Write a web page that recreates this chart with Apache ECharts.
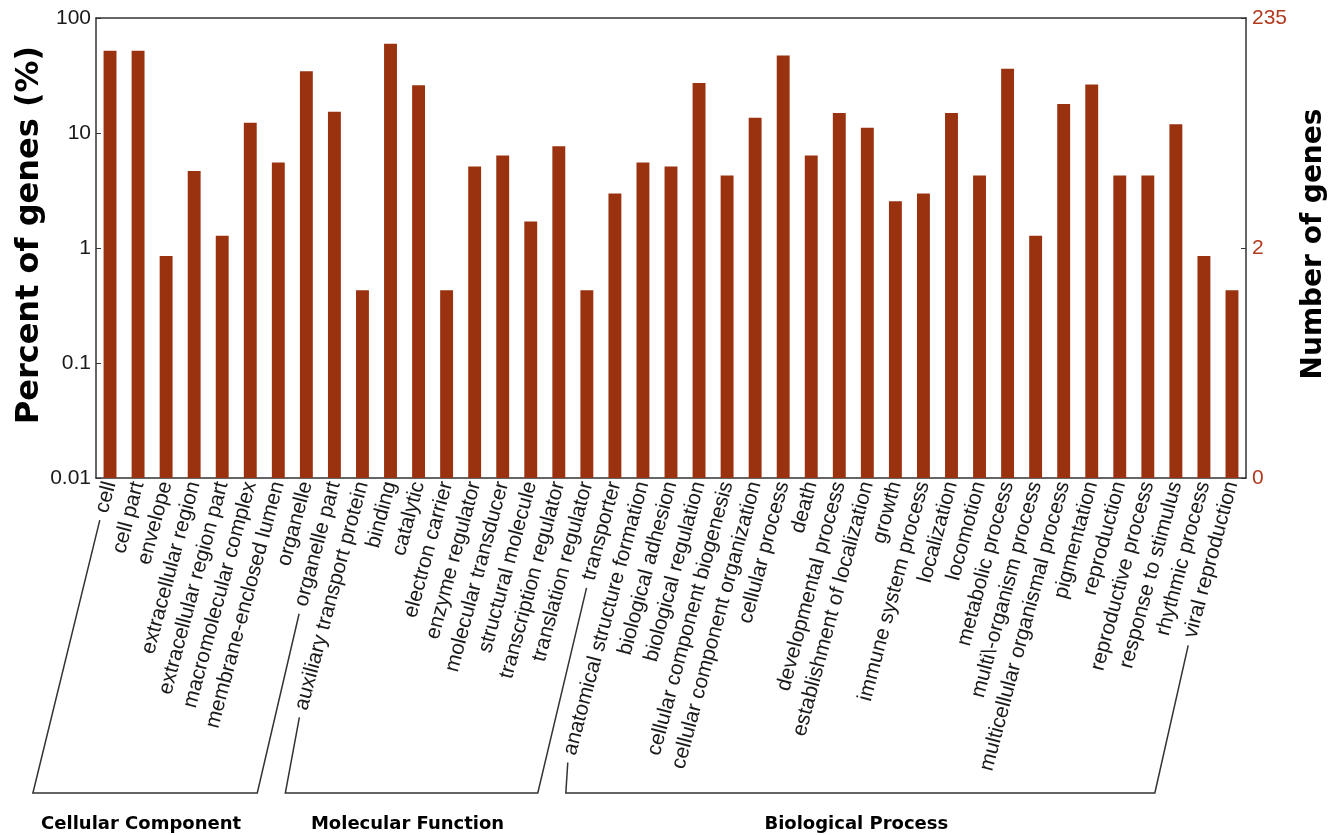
<!DOCTYPE html>
<html>
<head>
<meta charset="utf-8">
<script src="https://cdn.jsdelivr.net/npm/echarts@6/dist/echarts.min.js"></script>
<style>
  html, body { margin: 0; padding: 0; background: #fff; }
  #chart { width: 1338px; height: 835px; }
</style>
</head>
<body>
<div id="chart"></div>
<script>
// --- données ---
const categories = [
  'cell', 'cell part', 'envelope', 'extracellular region', 'extracellular region part',
  'macromolecular complex', 'membrane-enclosed lumen', 'organelle', 'organelle part',
  'auxiliary transport protein', 'binding', 'catalytic', 'electron carrier', 'enzyme regulator',
  'molecular transducer', 'structural molecule', 'transcription regulator', 'translation regulator',
  'transporter',
  'anatomical structure formation', 'biological adhesion', 'biological regulation',
  'cellular component biogenesis', 'cellular component organization', 'cellular process', 'death',
  'developmental process', 'establishment of localization', 'growth', 'immune system process',
  'localization', 'locomotion', 'metabolic process', 'multi\\-organism process',
  'multicellular organismal process', 'pigmentation', 'reproduction', 'reproductive process',
  'response to stimulus', 'rhythmic process', 'viral reproduction'
];
const percents = [
  51.9, 51.9, 0.85, 4.68, 1.28, 12.3, 5.53, 34.5, 15.3,
  0.43, 59.6, 26.0, 0.43, 5.11, 6.38, 1.70, 7.66, 0.43, 2.98,
  5.53, 5.11, 27.2, 4.26, 13.6, 47.2, 6.38, 14.9, 11.1, 2.55, 2.98,
  14.9, 4.26, 36.2, 1.28, 17.9, 26.4, 4.26, 4.26, 11.9, 0.85, 0.43
];
const leftTicks = [0.01, 0.1, 1, 10, 100];
const rightTicks = [0.01, 1, 100];
const rightTickLabels = ['0', '2', '235'];
const groupNames = ['Cellular Component', 'Molecular Function', 'Biological Process'];
const groupFirst = [0, 9, 19];
const groupLast = [8, 18, 40];

// --- styles ---
const barColor = '#9a3210';
const lineColor = '#333';
const labelFont = "21px 'Liberation Sans'";
const labelRotate = 75;
const labelMargin = 4;
const bracketY = 793;
const titleY = 824;
const yMin = 0.01, yMax = 100;

const chart = echarts.init(document.getElementById('chart'));

const option = {
  animation: false,
  grid: { left: 96, right: 92, top: 18, bottom: 357, containLabel: false, outerBoundsMode: 'none' },
  xAxis: [
    {
      type: 'category',
      data: categories,
      position: 'bottom',
      axisLine: { lineStyle: { color: lineColor, width: 1.5 } },
      axisTick: { inside: true, length: 4, interval: 0, lineStyle: { color: lineColor } },
      axisLabel: {
        interval: 0, rotate: labelRotate, margin: labelMargin,
        fontSize: 21, fontFamily: 'Liberation Sans', color: '#1a1a1a'
      }
    },
    {
      type: 'category',
      data: categories,
      position: 'top',
      axisLine: { lineStyle: { color: lineColor, width: 1.5 } },
      axisTick: { inside: true, length: 4, interval: 0, lineStyle: { color: lineColor } },
      axisLabel: { show: false }
    }
  ],
  yAxis: [
    {
      type: 'log', logBase: 10, min: yMin, max: yMax,
      position: 'left',
      axisLine: { show: true, lineStyle: { color: lineColor, width: 1.5 } },
      axisTick: { show: true, inside: true, length: 5, customValues: leftTicks, lineStyle: { color: lineColor } },
      axisLabel: {
        customValues: leftTicks, margin: 5,
        fontSize: 21, fontFamily: 'Liberation Sans', color: '#1a1a1a',
        formatter: v => String(Number(Number(v).toPrecision(2)))
      },
      splitLine: { show: false }
    },
    {
      type: 'log', logBase: 10, min: yMin, max: yMax,
      position: 'right',
      axisLine: { show: true, lineStyle: { color: lineColor, width: 1.5 } },
      axisTick: { show: true, inside: true, length: 5, customValues: rightTicks, lineStyle: { color: lineColor } },
      axisLabel: {
        customValues: rightTicks, margin: 6,
        fontSize: 21, fontFamily: 'Liberation Sans', color: '#b23a1c',
        formatter: v => {
          const k = rightTicks.findIndex(t => Math.abs(Math.log10(t) - Math.log10(v)) < 1e-6);
          return k >= 0 ? rightTickLabels[k] : '';
        }
      },
      splitLine: { show: false }
    }
  ],
  series: [
    {
      // barres depuis le bas de l'axe log (0.01) et pas depuis 1
      type: 'custom',
      xAxisIndex: 0,
      yAxisIndex: 0,
      data: percents.map((v, i) => [i, v]),
      encode: { x: 0, y: 1 },
      renderItem: (params, api) => {
        const i = api.value(0);
        const top = api.coord([i, api.value(1)]);
        const base = api.coord([i, yMin]);
        const band = api.coord([1, 1])[0] - api.coord([0, 1])[0];
        const w = band * 0.46;
        return {
          type: 'rect',
          shape: { x: top[0] - w / 2, y: top[1], width: w, height: base[1] - top[1] },
          style: { fill: barColor }
        };
      }
    }
  ]
};

chart.setOption(option);

// --- crochets des groupes sous les étiquettes ---
const ctx = document.createElement('canvas').getContext('2d');
ctx.font = labelFont;
const rad = labelRotate * Math.PI / 180;
const cosA = Math.cos(rad), sinA = Math.sin(rad);
const axisY = chart.convertToPixel({ yAxisIndex: 0 }, yMin);
const bracketCot = 0.248;

function labelTip(i) {
  const x = chart.convertToPixel({ xAxisIndex: 0 }, categories[i]);
  const w = ctx.measureText(categories[i]).width + 8;
  return [x - w * cosA, axisY + labelMargin + w * sinA];
}
function footPoint(i) {
  const x = chart.convertToPixel({ xAxisIndex: 0 }, categories[i]);
  return [x - (bracketY - axisY - labelMargin) * bracketCot, bracketY];
}

const graphics = [];
groupNames.forEach((name, g) => {
  const a = labelTip(groupFirst[g]);
  const b = footPoint(groupFirst[g]);
  const c = footPoint(groupLast[g]);
  const d = labelTip(groupLast[g]);
  graphics.push({
    type: 'polyline',
    shape: { points: [a, b, c, d] },
    style: { stroke: lineColor, lineWidth: 1.5, fill: null }
  });
  graphics.push({
    type: 'text',
    x: (b[0] + c[0]) / 2 - 4,
    y: titleY,
    style: {
      text: name, align: 'center', verticalAlign: 'middle',
      font: "bold 18px 'DejaVu Sans'", fill: '#000'
    }
  });
});

// noms des axes
graphics.push({
  type: 'text', x: 30, y: 235, rotation: Math.PI / 2,
  style: {
    text: 'Percent of genes (%)', align: 'center', verticalAlign: 'middle',
    font: "bold 32px 'DejaVu Sans'", fill: '#000'
  }
});
graphics.push({
  type: 'text', x: 1314, y: 244, rotation: Math.PI / 2,
  style: {
    text: 'Number of genes', align: 'center', verticalAlign: 'middle',
    font: "bold 28px 'DejaVu Sans'", fill: '#000'
  }
});
chart.setOption({ graphic: graphics });
</script>
</body>
</html>
